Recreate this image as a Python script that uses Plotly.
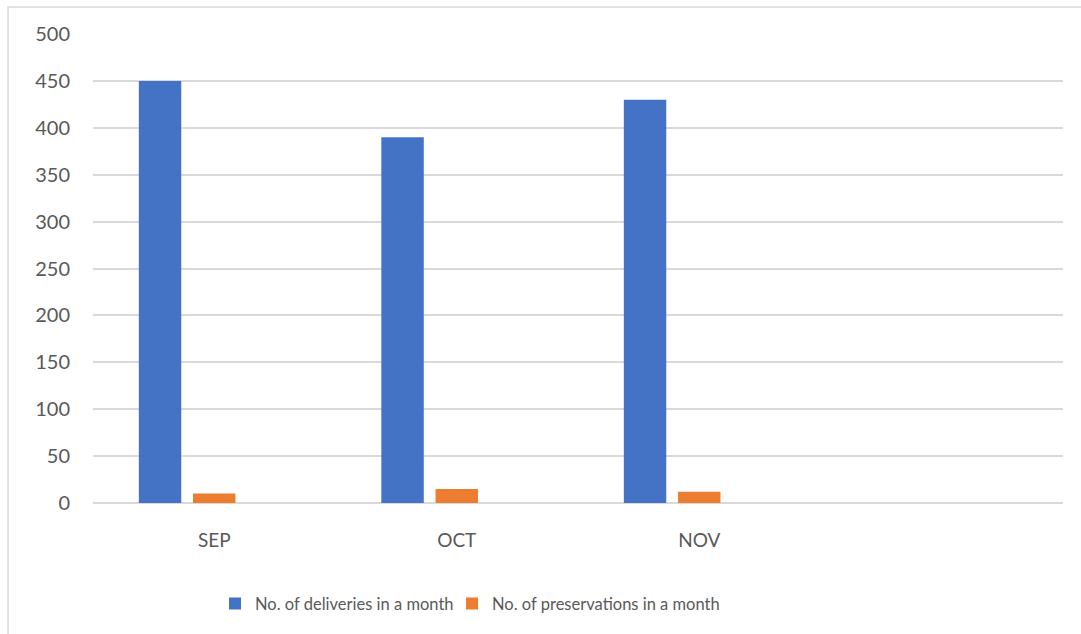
import plotly.graph_objects as go

months = ["SEP", "OCT", "NOV", " "]
deliveries = [450, 390, 430, None]
preservations = [10, 15, 12, None]

series_names = ["No. of deliveries in a month", "No. of preservations in a month"]
colors = ["#4472C4", "#ED7D31"]

bar_w = 0.175
offsets = [-0.311, -0.0875]
legend_widths = [192, None]

fig = go.Figure()
for name, vals, col, off, lw in zip(series_names, [deliveries, preservations], colors, offsets, legend_widths):
    fig.add_trace(go.Bar(
        x=months, y=vals, name=name,
        marker=dict(color=col, line=dict(width=0)),
        width=bar_w, offset=off, legendwidth=lw,
    ))

font_family = "Lato, sans-serif"
gray = "#595959"

fig.update_layout(
    width=1081, height=634,
    margin=dict(l=93, r=18, t=34, b=131),
    paper_bgcolor="white", plot_bgcolor="white",
    barmode="overlay",
    font=dict(family=font_family, color=gray, size=18),
    showlegend=True,
    legend=dict(
        orientation="h", x=0.1258, xanchor="left", y=-0.215, yanchor="middle",
        font=dict(size=16.5, color=gray), itemwidth=30, traceorder="normal",
    ),
    xaxis=dict(
        type="category", categoryorder="array", categoryarray=months,
        range=[-0.5, 3.5], showgrid=False, zeroline=False,
        showline=False, ticks="", ticklabelstandoff=24,
        tickfont=dict(size=19, color=gray),
    ),
    yaxis=dict(
        range=[0, 500], tickvals=list(range(0, 501, 50)),
        showgrid=True, gridcolor="#D9D9D9", gridwidth=1.5,
        zeroline=True, zerolinecolor="#D9D9D9", zerolinewidth=2,
        showline=False, ticks="", ticklabelstandoff=22,
        tickfont=dict(size=20, color=gray),
    ),
    shapes=[dict(
        type="rect", xref="paper", yref="paper",
        x0=-0.0876, x1=1.3, y0=-0.4, y1=1.0576,
        line=dict(color="#D9D9D9", width=1.5), fillcolor="rgba(0,0,0,0)",
        layer="below",
    )],
)

fig.write_html("out.html")
